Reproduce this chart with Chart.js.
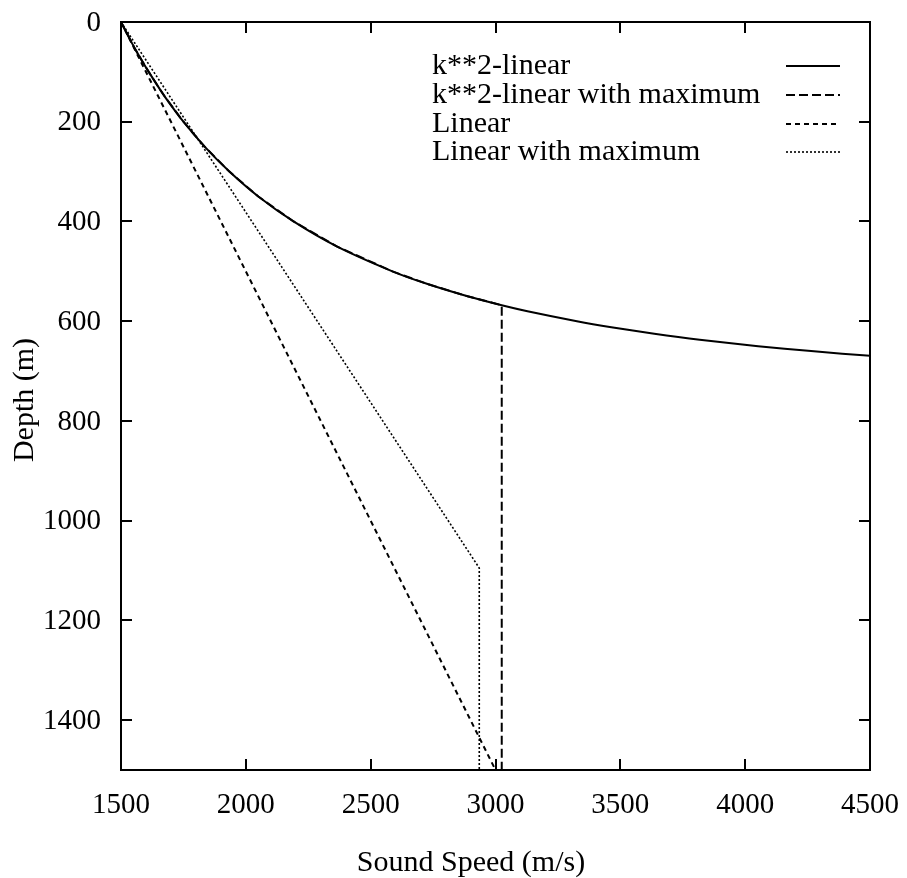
<!DOCTYPE html>
<html>
<head>
<meta charset="utf-8">
<script src="https://cdn.jsdelivr.net/npm/chart.js@4"></script>
<style>
  html, body { margin: 0; padding: 0; background: #fff; }
  #wrap { width: 907px; height: 878px; }
</style>
</head>
<body>
<div id="wrap"><canvas id="myChart" width="907" height="878"></canvas></div>
<script>
// values (depth in m, sound speed in m/s)
const depthK2 = [0, 25, 50, 75, 100, 125, 150, 200, 250, 300, 350, 400, 450, 500, 525, 550, 568, 580, 600, 612, 625, 637, 650, 660, 670];
const speedK2 = [1500, 1526, 1552, 1581, 1611, 1643, 1676, 1750, 1835, 1934, 2050, 2191, 2364, 2587, 2725, 2888, 3025, 3128, 3326, 3464, 3636, 3818, 4052, 4264, 4513];
const depthK2Max = [0, 25, 50, 75, 100, 125, 150, 200, 250, 300, 350, 400, 450, 500, 525, 550, 568, 1500];
const speedK2Max = [1500, 1526, 1552, 1581, 1611, 1643, 1676, 1750, 1835, 1934, 2050, 2191, 2364, 2587, 2725, 2888, 3025, 3025];
const depthLin = [0, 1500];
const speedLin = [1500, 3000];
const depthLinMax = [0, 1095, 1500];
const speedLinMax = [1500, 2935, 2935];
const seriesNames = ['k**2-linear', 'k**2-linear with maximum', 'Linear', 'Linear with maximum'];
const xTicks = [1500, 2000, 2500, 3000, 3500, 4000, 4500];
const yTicks = [0, 200, 400, 600, 800, 1000, 1200, 1400];

const FONT = "'Liberation Serif', 'Times New Roman', serif";

function pts(xs, ys) {
    return xs.map((x, i) => ({ x: x, y: ys[i] }));
}

// frame, inward ticks, tick labels, legend and axis titles, gnuplot style
const framePlugin = {
    id: 'frame',
    afterDraw(chart) {
        const c = chart.ctx;
        const a = chart.chartArea;
        const xs = chart.scales.x, ys = chart.scales.y;
        c.save();
        c.strokeStyle = '#000';
        c.fillStyle = '#000';
        c.lineWidth = 2;
        c.strokeRect(a.left, a.top, a.right - a.left, a.bottom - a.top);
        const tl = 11;
        c.beginPath();
        xTicks.forEach(v => {
            if (v <= 1500 || v >= 4500) return;
            const px = Math.round(xs.getPixelForValue(v));
            c.moveTo(px, a.bottom); c.lineTo(px, a.bottom - tl);
            c.moveTo(px, a.top); c.lineTo(px, a.top + tl);
        });
        yTicks.forEach(v => {
            if (v <= 0 || v >= 1500) return;
            const py = Math.round(ys.getPixelForValue(v));
            c.moveTo(a.left, py); c.lineTo(a.left + tl, py);
            c.moveTo(a.right, py); c.lineTo(a.right - tl, py);
        });
        c.stroke();

        // tick labels
        c.font = '29px ' + FONT;
        c.textBaseline = 'middle';
        c.textAlign = 'center';
        xTicks.forEach(v => {
            c.fillText(String(v), xs.getPixelForValue(v), a.bottom + 35);
        });
        c.textAlign = 'right';
        yTicks.forEach(v => {
            c.fillText(String(v), a.left - 20, ys.getPixelForValue(v) + 1);
        });

        // legend: text left, sample on the right
        c.font = '30px ' + FONT;
        c.textAlign = 'left';
        const rowsY = [66, 95, 124, 152];
        chart.data.datasets.forEach((ds, i) => {
            c.fillText(ds.label, 432, rowsY[i]);
            c.beginPath();
            c.setLineDash(ds.borderDash || []);
            c.lineWidth = ds.borderWidth;
            c.moveTo(786, rowsY[i]);
            c.lineTo(840, rowsY[i]);
            c.stroke();
        });
        c.setLineDash([]);

        // axis titles
        c.textAlign = 'center';
        c.textBaseline = 'alphabetic';
        c.fillText('Sound Speed (m/s)', 471, 871);
        c.translate(33, 400);
        c.rotate(-Math.PI / 2);
        c.fillText('Depth (m)', 0, 0);
        c.restore();
    }
};

const ctx = document.getElementById('myChart');
const myChart = new Chart(ctx, {
    type: 'scatter',
    data: {
        datasets: [{
            label: seriesNames[0],
            data: pts(speedK2, depthK2),
            borderColor: '#000',
            borderWidth: 2,
            tension: 0.3
        }, {
            label: seriesNames[1],
            data: pts(speedK2Max, depthK2Max),
            borderColor: '#000',
            borderWidth: 2,
            borderDash: [9, 4],
            tension: 0
        }, {
            label: seriesNames[2],
            data: pts(speedLin, depthLin),
            borderColor: '#000',
            borderWidth: 2,
            borderDash: [5, 4]
        }, {
            label: seriesNames[3],
            data: pts(speedLinMax, depthLinMax),
            borderColor: '#000',
            borderWidth: 1.6,
            borderDash: [2, 2]
        }]
    },
    options: {
        responsive: false,
        animation: false,
        showLine: true,
        elements: { point: { radius: 0, hoverRadius: 0 } },
        layout: { padding: { top: 22, right: 37, left: 0, bottom: 0 } },
        plugins: {
            legend: { display: false },
            tooltip: { enabled: false }
        },
        scales: {
            x: {
                type: 'linear',
                min: 1500,
                max: 4500,
                afterFit(scale) { scale.height = 108; },
                grid: { display: false, drawTicks: false },
                border: { display: false },
                ticks: { display: false }
            },
            y: {
                type: 'linear',
                reverse: true,
                min: 0,
                max: 1500,
                afterFit(scale) { scale.width = 121; },
                grid: { display: false, drawTicks: false },
                border: { display: false },
                ticks: { display: false }
            }
        }
    },
    plugins: [framePlugin]
});
</script>
</body>
</html>
